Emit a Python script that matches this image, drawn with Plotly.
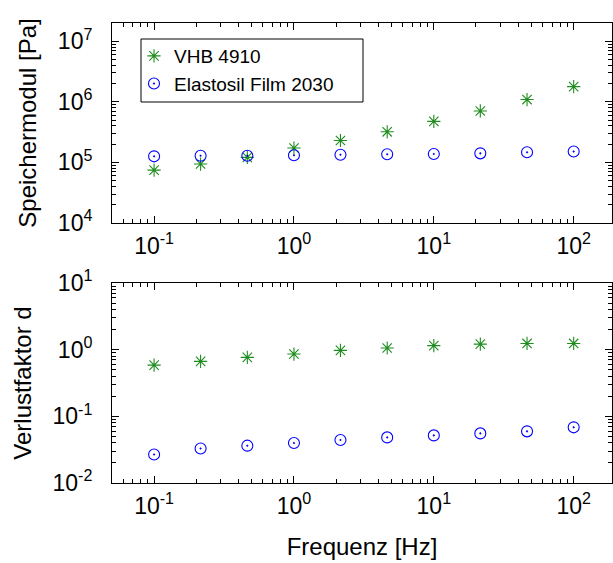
import numpy as np
import plotly.graph_objects as go
from plotly.subplots import make_subplots

# Frequenz-Stützstellen (3 pro Dekade)
freq = [0.1, 0.215, 0.464, 1.0, 2.15, 4.64, 10.0, 21.5, 46.4, 100.0]

# Speichermodul [Pa]
g_vhb = [7.45e4, 9.4e4, 1.21e5, 1.73e5, 2.3e5, 3.2e5, 4.75e5, 7.07e5, 1.09e6, 1.78e6]
g_elastosil = [1.26e5, 1.29e5, 1.29e5, 1.31e5, 1.34e5, 1.36e5, 1.38e5, 1.41e5, 1.47e5, 1.51e5]

# Verlustfaktor d
d_vhb = [0.586, 0.667, 0.766, 0.86, 0.977, 1.06, 1.15, 1.21, 1.24, 1.24]
d_elastosil = [0.0268, 0.033, 0.0363, 0.0398, 0.0442, 0.0483, 0.0518, 0.0555, 0.0595, 0.0684]

names = ["VHB 4910", "Elastosil Film 2030"]

x_ticks = [0.1, 1, 10, 100]
x_ticktext = ["10<sup>-1</sup>", "10<sup>0</sup>", "10<sup>1</sup>", "10<sup>2</sup>"]
y1_ticks = [1e4, 1e5, 1e6, 1e7]
y1_ticktext = ["10<sup>4</sup>", "10<sup>5</sup>", "10<sup>6</sup>", "10<sup>7</sup>"]
y2_ticks = [1e-2, 1e-1, 1, 10]
y2_ticktext = ["10<sup>-2</sup>", "10<sup>-1</sup>", "10<sup>0</sup>", "10<sup>1</sup>"]


def minor_vals(lo_exp, hi_exp):
    """Nebenstriche 2..9 x 10^k für die Dekaden lo_exp..hi_exp."""
    return [m * 10.0 ** k for k in range(lo_exp, hi_exp + 1) for m in range(2, 10)]


GREEN = "#1e8c1e"
BLUE = "#0000ff"
FONT = "Liberation Sans, Arial, sans-serif"

W, H = 613, 563
ML, MR, MT, MB = 112, 1, 23, 80
plot_h = H - MT - MB

fig = make_subplots(rows=2, cols=1, vertical_spacing=0.0)

vhb_marker = dict(symbol="asterisk-open", size=11, color=GREEN, line=dict(color=GREEN, width=1.1))
ela_marker = dict(symbol="circle-open-dot", size=11, color=BLUE, line=dict(color=BLUE, width=1.1))

fig.add_trace(go.Scatter(x=freq, y=g_vhb, mode="markers", name=names[0],
                         marker=vhb_marker, legendgroup="a"), row=1, col=1)
fig.add_trace(go.Scatter(x=freq, y=g_elastosil, mode="markers", name=names[1],
                         marker=ela_marker, legendgroup="b"), row=1, col=1)
fig.add_trace(go.Scatter(x=freq, y=d_vhb, mode="markers", name=names[0],
                         marker=vhb_marker, showlegend=False), row=2, col=1)
fig.add_trace(go.Scatter(x=freq, y=d_elastosil, mode="markers", name=names[1],
                         marker=ela_marker, showlegend=False), row=2, col=1)

TICKFONT = dict(family=FONT, size=23, color="black")
TITLEFONT = dict(family=FONT, size=24, color="black")

axis_common = dict(
    type="log", showgrid=False, zeroline=False,
    showline=True, linecolor="black", linewidth=1, mirror="allticks",
    ticks="inside", ticklen=7, tickwidth=1, tickcolor="black",
    tickfont=TICKFONT,
)


def minor_cfg(vals):
    return dict(ticks="inside", ticklen=4, tickwidth=1, tickcolor="black",
                showgrid=False, tickvals=vals)


xrange = [np.log10(0.05), 2.274]
fig.update_xaxes(**axis_common, range=xrange, tickvals=x_ticks, ticktext=x_ticktext,
                 minor=minor_cfg(minor_vals(-2, 2)), ticklabelstandoff=2)
fig.update_xaxes(title=dict(text="Frequenz [Hz]", font=TITLEFONT, standoff=20), row=2, col=1)

top_lo = (483 - 223) / plot_h
bot_hi = (483 - 283) / plot_h
fig.update_yaxes(**axis_common, ticklabelstandoff=14)
fig.update_yaxes(range=[4, np.log10(2e7)], tickvals=y1_ticks, ticktext=y1_ticktext,
                 minor=minor_cfg(minor_vals(4, 7)),
                 domain=[top_lo, 1.0],
                 title=dict(text="Speichermodul [Pa]", font=TITLEFONT, standoff=14), row=1, col=1)
fig.update_yaxes(range=[-2, 1], tickvals=y2_ticks, ticktext=y2_ticktext,
                 minor=minor_cfg(minor_vals(-2, 0)),
                 domain=[0.0, bot_hi],
                 title=dict(text="Verlustfaktor d", font=TITLEFONT, standoff=14), row=2, col=1)

pw = W - ML - MR


def px_x(p):
    return (p - ML) / pw


def px_y(p):
    return (H - MB - p) / plot_h


# Rahmen der Legende
fig.add_shape(type="rect", xref="paper", yref="paper",
              x0=px_x(141), x1=px_x(363), y0=px_y(102), y1=px_y(39),
              line=dict(color="black", width=1), fillcolor="white", layer="below")

fig.update_layout(
    width=W, height=H,
    margin=dict(l=ML, r=MR, t=MT, b=MB),
    paper_bgcolor="white", plot_bgcolor="white",
    font=dict(family=FONT, color="black"),
    legend=dict(x=px_x(134), y=px_y(37), xanchor="left", yanchor="top",
                bgcolor="rgba(0,0,0,0)", borderwidth=0,
                font=dict(family=FONT, size=19, color="black"),
                tracegroupgap=0, traceorder="grouped", itemwidth=30),
)

fig.write_html("out.html")
